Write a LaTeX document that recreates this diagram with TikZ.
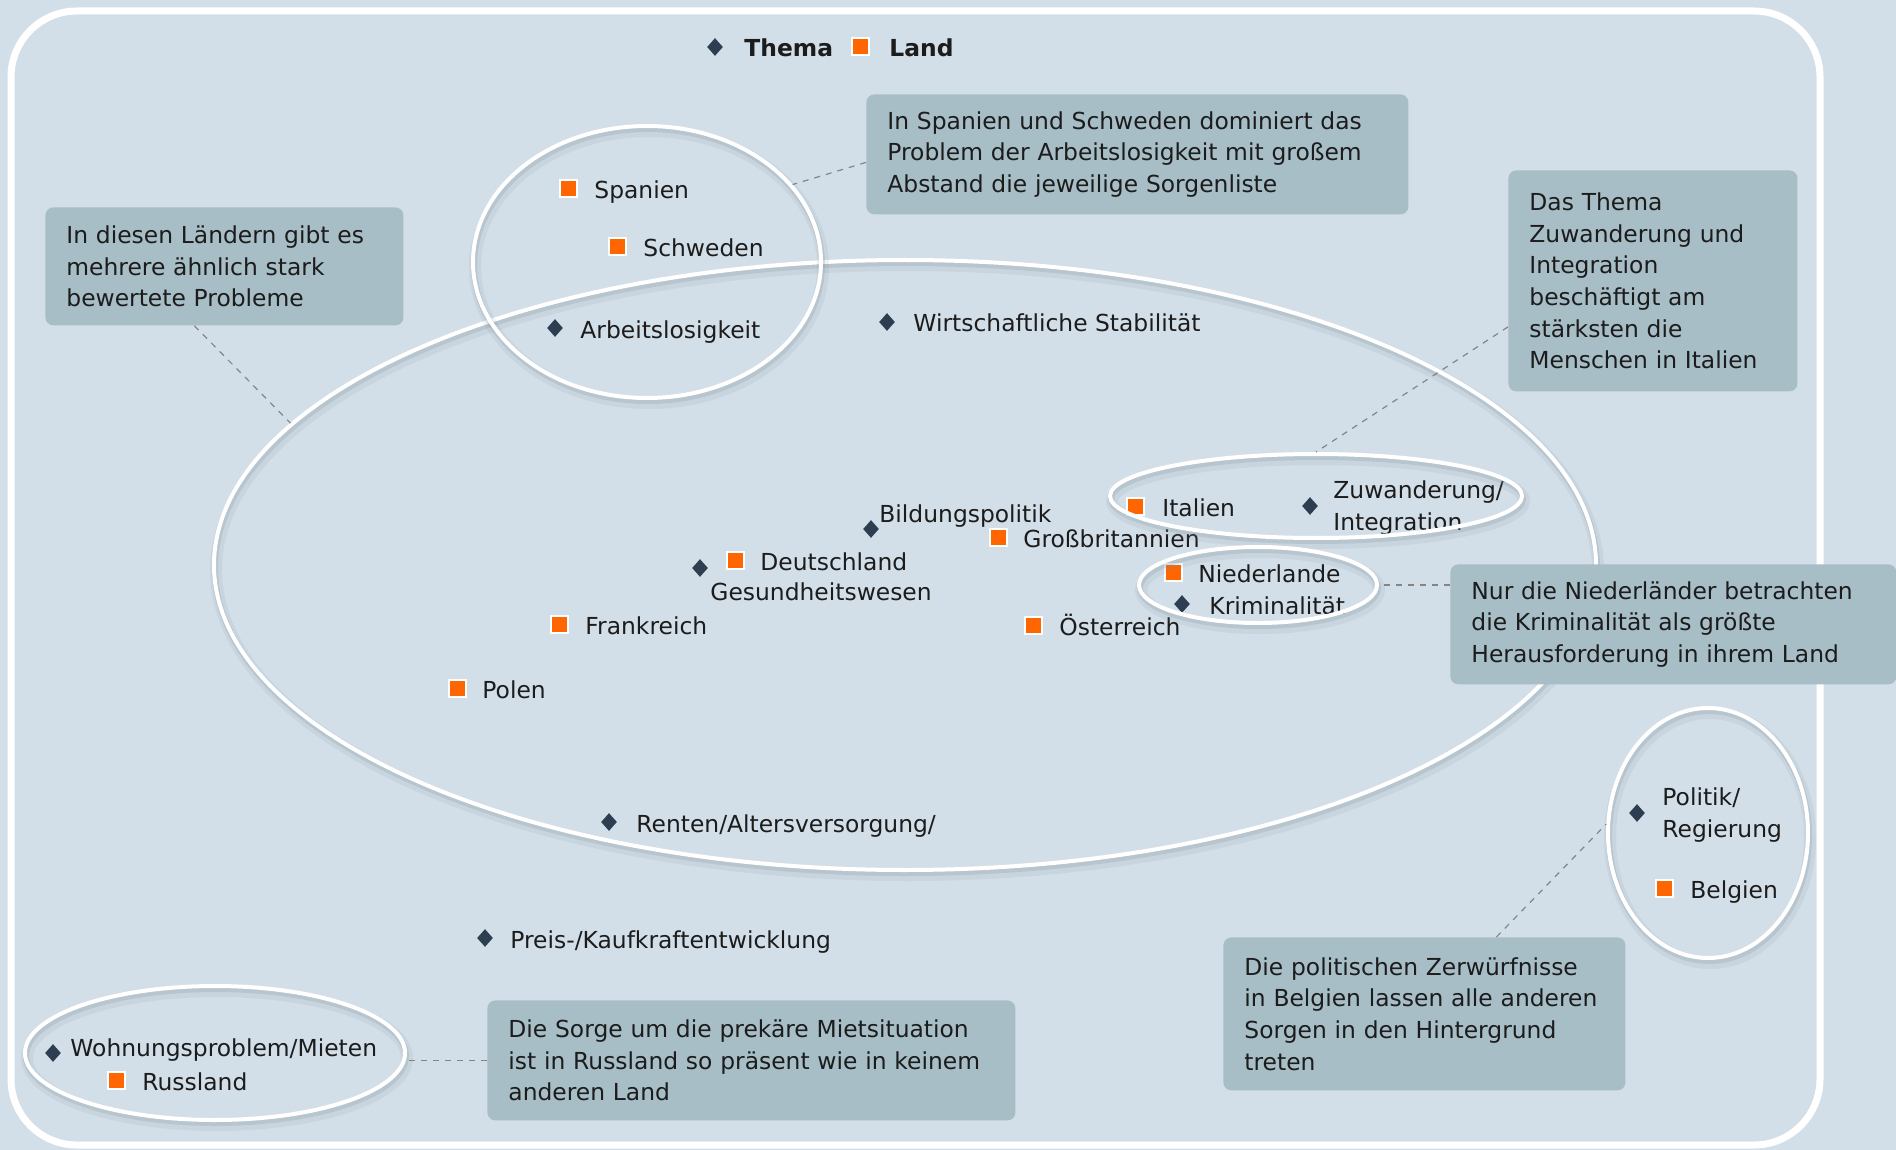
\documentclass[tikz,border=0pt]{standalone}
\usepackage{fontspec}
\setmainfont{DejaVu Sans}
\usepackage{xcolor,tikz}
\usetikzlibrary{shapes.geometric}

\definecolor{bgblue}{HTML}{D3DFE8}
\definecolor{boxblue}{HTML}{A7BEC7}
\definecolor{themadark}{HTML}{2C3E50}
\definecolor{landorange}{HTML}{FF6600}
\definecolor{linkgray}{HTML}{858585}
\definecolor{ringshade}{HTML}{7E8E9A}
\definecolor{inktext}{HTML}{1C1C1C}

\newcommand{\lblfont}{\fontsize{11.7}{15.8}\selectfont}

\tikzset{
  thema/.style={diamond, fill=themadark, inner sep=0pt, minimum width=8pt, minimum height=9pt},
  land/.style={rectangle, fill=landorange, draw=white, line width=1pt, inner sep=0pt, minimum size=8.5pt},
  lbl/.style={anchor=base west, inner sep=0pt, font=\lblfont, text=inktext, align=left},
  ring/.style={ellipse, draw=white, line width=2pt, inner sep=0pt,
    preaction={draw=ringshade, line width=6pt, opacity=0.12, transform canvas={shift={(1pt,-2.5pt)}}},
    preaction={draw=ringshade, line width=3pt, opacity=0.22, transform canvas={shift={(0.5pt,-1.5pt)}}}},
  infobox/.style={anchor=north west, fill=boxblue, rounded corners=4pt, inner xsep=10.5pt,
    inner ysep=0pt, align=left, font=\lblfont, text=inktext},
  link/.style={linkgray, dashed, line width=0.6pt}
}

\begin{document}
\begin{tikzpicture}[x=0.5pt, y=-0.5pt]
          \useasboundingbox (0,0) rectangle (1896,1150);
          \fill[bgblue] (0,0) rectangle (1896,1150);
          \draw[white, line width=3.5pt, rounded corners=33pt] (11,11) rectangle (1820,1145);

          \node[thema] (lgThema) at (715,47) {};
          \node[lbl, font=\lblfont\bfseries] (lgThemaTxt) at (744,57) {Thema};
          \node[land] (lgLand) at (860,47) {};
          \node[lbl, font=\lblfont\bfseries] (lgLandTxt) at (889,57) {Land};

          \node[land] (es) at (568,189) {};
          \node[lbl] (esTxt) at (594,199) {Spanien};
          \node[land] (se) at (617,247) {};
          \node[lbl] (seTxt) at (643,257) {Schweden};
          \node[thema] (arb) at (555,328) {};
          \node[lbl] (arbTxt) at (580,338) {Arbeitslosigkeit};
          \node[thema] (wirt) at (887,322) {};
          \node[lbl] (wirtTxt) at (913,332) {Wirtschaftliche Stabilität};
          \node[thema] (bild) at (871,529) {};
          \node[lbl] (bildTxt) at (879,522) {Bildungspolitik};
          \node[land] (gb) at (998,537) {};
          \node[lbl] (gbTxt) at (1023,547) {Großbritannien};
          \node[land] (de) at (735,560) {};
          \node[lbl] (deTxt) at (760,570) {Deutschland};
          \node[thema] (ges) at (700,568) {};
          \node[lbl] (gesTxt) at (710,600) {Gesundheitswesen};
          \node[land] (fr) at (559,624) {};
          \node[lbl] (frTxt) at (585,634) {Frankreich};
          \node[land] (pl) at (457,688) {};
          \node[lbl] (plTxt) at (482,698) {Polen};
          \node[thema] (rent) at (609,822) {};
          \node[lbl] (rentTxt) at (636,832) {Renten/Altersversorgung/};
          \node[land] (at) at (1033,625) {};
          \node[lbl] (atTxt) at (1059,635) {Österreich};
          \node[land] (it) at (1135,506) {};
          \node[lbl] (itTxt) at (1162,516) {Italien};
          \node[thema] (zuw) at (1310,506) {};
          \node[lbl] (zuwTxt) at (1333,530) {Zuwanderung/\\Integration};
          \node[land] (nl) at (1173,572) {};
          \node[lbl] (nlTxt) at (1198,582) {Niederlande};
          \node[thema] (krim) at (1182,604) {};
          \node[lbl] (krimTxt) at (1209,614) {Kriminalität};
          \node[thema] (pol) at (1637,813) {};
          \node[lbl] (polTxt) at (1662,837) {Politik/\\Regierung};
          \node[land] (be) at (1664,888) {};
          \node[lbl] (beTxt) at (1690,898) {Belgien};
          \node[thema] (preis) at (485,938) {};
          \node[lbl] (preisTxt) at (510,948) {Preis-/Kaufkraftentwicklung};
          \node[thema] (wohn) at (53,1053) {};
          \node[lbl] (wohnTxt) at (70,1056) {Wohnungsproblem/Mieten};
          \node[land] (ru) at (116,1080) {};
          \node[lbl] (ruTxt) at (142,1090) {Russland};

          \node[ring, minimum width=691pt, minimum height=305pt] (ringAll) at (905,565) {};
          \node[ring, minimum width=174pt, minimum height=136pt] (ringES) at (647,262) {};
          \node[ring, minimum width=206pt, minimum height=42pt] (ringIT) at (1316,496) {};
          \node[ring, minimum width=119pt, minimum height=38pt] (ringNL) at (1258,585) {};
          \node[ring, minimum width=100pt, minimum height=125pt] (ringBE) at (1708,833) {};
          \node[ring, minimum width=190pt, minimum height=67pt] (ringRU) at (215,1053) {};

          \node[infobox, minimum width=179pt, minimum height=59pt, text width=158pt] (noteMulti) at (45,207)
            {In diesen Ländern gibt es\\mehrere ähnlich stark\\bewertete Probleme};
          \node[infobox, minimum width=271pt, minimum height=60pt, text width=250pt] (noteSpain) at (866,94)
            {In Spanien und Schweden dominiert das\\Problem der Arbeitslosigkeit mit großem\\Abstand die jeweilige Sorgenliste};
          \node[infobox, minimum width=144.5pt, minimum height=110.5pt, text width=123.5pt] (noteItaly) at (1508,170)
            {Das Thema\\Zuwanderung und\\Integration\\beschäftigt am\\stärksten die\\Menschen in Italien};
          \node[infobox, minimum width=223pt, minimum height=60pt, text width=202pt] (noteDutch) at (1450,564)
            {Nur die Niederländer betrachten\\die Kriminalität als größte\\Herausforderung in ihrem Land};
          \node[infobox, minimum width=201pt, minimum height=76.5pt, text width=180pt] (noteBelg) at (1223,937)
            {Die politischen Zerwürfnisse\\in Belgien lassen alle anderen\\Sorgen in den Hintergrund\\treten};
          \node[infobox, minimum width=264pt, minimum height=60pt, text width=243pt] (noteRuss) at (487,1000)
            {Die Sorge um die prekäre Mietsituation\\ist in Russland so präsent wie in keinem\\anderen Land};

          \draw[link] ([xshift=-15pt]noteMulti.south) -- (ringAll.167);
          \draw[link] ([yshift=-4pt]noteSpain.west) -- (ringES.28);
          \draw[link] ([yshift=-23pt]noteItaly.west) -- (ringIT.north);
          \draw[link] (noteDutch.west |- ringNL.east) -- (ringNL.east);
          \draw[link] ([xshift=36pt]noteBelg.north) -- (ringBE.175);
          \draw[link] (noteRuss.west) -- (ringRU.east |- noteRuss.west);
        \end{tikzpicture}
\end{document}
